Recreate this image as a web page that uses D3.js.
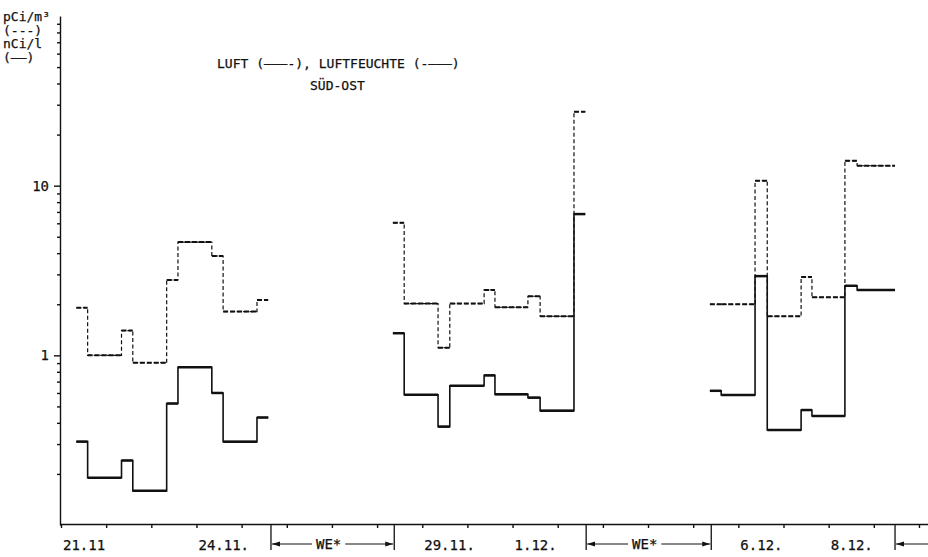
<!DOCTYPE html>
<html>
<head>
<meta charset="utf-8">
<script src="https://cdn.jsdelivr.net/npm/d3@7"></script>
<style>
  html, body { margin: 0; padding: 0; background: #fff; }
  svg { display: block; }
  text { font-family: "DejaVu Sans Mono", "Liberation Mono", monospace; fill: #111; stroke: #111; stroke-width: 0.25px; }
</style>
</head>
<body>
<svg id="chart" width="928" height="557"></svg>
<script>
// Sampling interval boundaries, in days counted from 21.11. 0:00
const block1Times   = [0.34, 0.59, 1.34, 1.59, 2.34, 2.59, 3.34, 3.59, 4.34, 4.59];
const block1Luft    = [0.31, 0.19, 0.24, 0.159, 0.52, 0.85, 0.60, 0.31, 0.43];      // nCi/l
const block1Feuchte = [1.91, 1.0, 1.40, 0.905, 2.78, 4.65, 3.85, 1.81, 2.12];       // pCi/m3

const block2Times   = [7.35, 7.60, 8.35, 8.61, 9.37, 9.61, 10.34, 10.61, 11.36, 11.61];
const block2Luft    = [1.35, 0.586, 0.38, 0.662, 0.762, 0.589, 0.563, 0.472, 6.8];
const block2Feuchte = [6.04, 2.02, 1.11, 2.02, 2.43, 1.92, 2.23, 1.70, 27.3];

const block3Times   = [14.37, 14.62, 15.37, 15.64, 16.39, 16.63, 17.36, 17.63, 18.47];
const block3Luft    = [0.618, 0.584, 2.93, 0.363, 0.476, 0.439, 2.57, 2.43];
const block3Feuchte = [2.0, 2.0, 10.7, 1.70, 2.90, 2.20, 14.0, 13.1];

// Date labels on the time axis
const dateLabels = ["21.11", "24.11.", "29.11.", "1.12.", "6.12.", "8.12."];
const dateDays   = [0, 3, 8, 10, 15, 17];
const dayTicks   = d3.range(0, 20);

// Weekend spans (start, end; null = runs past the right edge)
const weekendStarts = [4.65, 11.63, 18.47];
const weekendEnds   = [7.38, 14.40, null];

// Logarithmic concentration axis
const yMajorTicks = [1, 10];
const yMinorTicks = [0.2, 0.3, 0.4, 0.5, 0.6, 0.7, 0.8, 0.9,
                     2, 3, 4, 5, 6, 7, 8, 9,
                     20, 30, 40, 50, 60, 70, 80, 90];

const unitLines = ["pCi/m\u00B3", "(---)", "nCi/l", "(\u2014\u2014)"];
const titleLine = "LUFT (\u2014\u2014\u2014-), LUFTFEUCHTE (-\u2014\u2014\u2014)";
const subTitle  = "S\u00DCD-OST";

const svg = d3.select("#chart");
const ink = "#111";

const x = d3.scaleLinear().domain([0, 19.2]).range([61, 928]);
const y = d3.scaleLog().domain([0.1, 100]).range([525, 16]);

// ---- axes ----
const yMinor = d3.axisLeft(y).tickValues(yMinorTicks).tickSize(3).tickFormat("");
const gMinor = svg.append("g").attr("transform", "translate(60,0)").call(yMinor);
gMinor.select(".domain").remove();

const yMajor = d3.axisLeft(y).tickValues(yMajorTicks).tickSize(6).tickSizeOuter(0)
  .tickPadding(5).tickFormat(d3.format("d"));
const gMajor = svg.append("g").attr("transform", "translate(60,0)").call(yMajor);
gMajor.selectAll("text").style("font-size", "14px")
  .style("font-family", "'DejaVu Sans Mono', monospace").attr("fill", ink);

const xAxis = d3.axisBottom(x).tickValues(dayTicks).tickSize(4).tickSizeOuter(0).tickFormat("");
const gX = svg.append("g").attr("transform", "translate(0,524)").call(xAxis);
gX.select(".domain").attr("d", `M60,0.5H928`);

svg.selectAll(".domain, .tick line").attr("stroke", ink).attr("stroke-width", 1.4);

// ---- date labels ----
svg.append("g").selectAll("text")
  .data(dateLabels)
  .join("text")
  .attr("x", (d, i) => x(dateDays[i]) + 2)
  .attr("y", 550)
  .style("font-size", "14px")
  .text(d => d);

// ---- weekend markers ----
const defs = svg.append("defs");
defs.append("marker").attr("id", "arrowL")
  .attr("viewBox", "0 0 8 6").attr("refX", 0).attr("refY", 3)
  .attr("markerWidth", 8).attr("markerHeight", 6).attr("markerUnits", "userSpaceOnUse")
  .attr("orient", "auto")
  .append("path").attr("d", "M0,3L8,0.5L8,5.5Z").attr("fill", ink);
defs.append("marker").attr("id", "arrowR")
  .attr("viewBox", "0 0 8 6").attr("refX", 8).attr("refY", 3)
  .attr("markerWidth", 8).attr("markerHeight", 6).attr("markerUnits", "userSpaceOnUse")
  .attr("orient", "auto")
  .append("path").attr("d", "M8,3L0,0.5L0,5.5Z").attr("fill", ink);

const weY = 544;
weekendStarts.forEach((s, i) => {
  const e = weekendEnds[i];
  const g = svg.append("g");
  const xs = x(s);
  g.append("line").attr("x1", xs).attr("x2", xs).attr("y1", 524).attr("y2", 550)
    .attr("stroke", ink).attr("stroke-width", 1.3);
  if (e === null) {
    g.append("line").attr("x1", xs + 1).attr("x2", 928).attr("y1", weY).attr("y2", weY)
      .attr("stroke", ink).attr("stroke-width", 1).attr("marker-start", "url(#arrowL)");
    return;
  }
  const xe = x(e);
  g.append("line").attr("x1", xe).attr("x2", xe).attr("y1", 524).attr("y2", 550)
    .attr("stroke", ink).attr("stroke-width", 1.3);
  const mid = (xs + xe) / 2 - 4;
  const t = g.append("text").attr("x", mid).attr("y", weY + 5)
    .attr("text-anchor", "middle").style("font-size", "14px").text("WE*");
  const half = t.node().getComputedTextLength() / 2 + 4;
  g.append("line").attr("x1", xs + 1).attr("x2", mid - half).attr("y1", weY).attr("y2", weY)
    .attr("stroke", ink).attr("stroke-width", 1).attr("marker-start", "url(#arrowL)");
  g.append("line").attr("x1", mid + half).attr("x2", xe - 1).attr("y1", weY).attr("y2", weY)
    .attr("stroke", ink).attr("stroke-width", 1).attr("marker-end", "url(#arrowR)");
});

// ---- unit labels and title ----
svg.append("g").selectAll("text")
  .data(unitLines)
  .join("text")
  .attr("x", 3)
  .attr("y", (d, i) => 21 + i * 13.5)
  .style("font-size", "13px")
  .text(d => d);

svg.append("text").attr("x", 217).attr("y", 68).style("font-size", "13px").text(titleLine);
svg.append("text").attr("x", 310).attr("y", 90).style("font-size", "13px").text(subTitle);

// ---- step series ----
function stepPoints(times, values) {
  const pts = values.map((v, i) => [times[i], v]);
  pts.push([times[values.length], values[values.length - 1]]);
  return pts;
}
const stepLine = d3.line().x(d => x(d[0])).y(d => y(d[1])).curve(d3.curveStepAfter);

const blocks = [
  { times: block1Times, luft: block1Luft, feuchte: block1Feuchte },
  { times: block2Times, luft: block2Luft, feuchte: block2Feuchte },
  { times: block3Times, luft: block3Luft, feuchte: block3Feuchte }
];

const series = svg.append("g").attr("fill", "none").attr("stroke", ink);

blocks.forEach(b => {
  // dashed series (pCi/m3): thin risers, heavier treads
  series.append("path")
    .attr("d", stepLine(stepPoints(b.times, b.feuchte)))
    .attr("stroke-width", 1.2).attr("stroke-dasharray", "4,2.5");
  series.append("g").selectAll("line")
    .data(b.feuchte)
    .join("line")
    .attr("x1", (d, i) => x(b.times[i])).attr("x2", (d, i) => x(b.times[i + 1]))
    .attr("y1", d => y(d)).attr("y2", d => y(d))
    .attr("stroke-width", 2).attr("stroke-dasharray", "5,2");

  // solid series (nCi/l)
  series.append("path")
    .attr("d", stepLine(stepPoints(b.times, b.luft)))
    .attr("stroke-width", 1.6);
  series.append("g").selectAll("line")
    .data(b.luft)
    .join("line")
    .attr("x1", (d, i) => x(b.times[i])).attr("x2", (d, i) => x(b.times[i + 1]))
    .attr("y1", d => y(d)).attr("y2", d => y(d))
    .attr("stroke-width", 2.5);
});
</script>
</body>
</html>
